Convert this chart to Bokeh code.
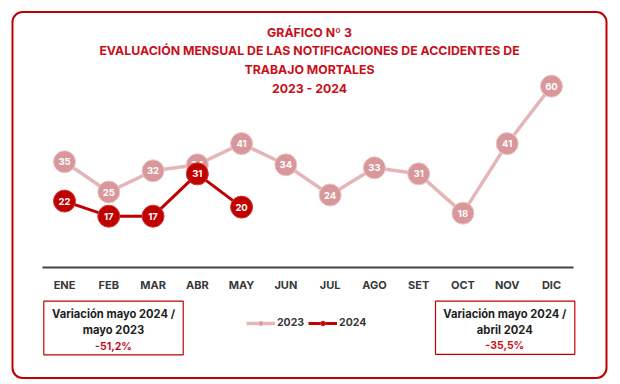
from bokeh.plotting import figure
from bokeh.models import Range1d, BoxAnnotation, Legend, LegendItem
from bokeh.core.properties import value
from bokeh.embed import file_html
from bokeh.resources import INLINE

# ---- data ----
months = ["ENE", "FEB", "MAR", "ABR", "MAY", "JUN", "JUL", "AGO", "SET", "OCT", "NOV", "DIC"]
v2023 = [35, 25, 32, 34, 41, 34, 24, 33, 31, 18, 41, 60]
v2024 = [22, 17, 17, 31, 20]
series_names = ["2023", "2024"]
title_lines = ["GRÁFICO Nº 3",
               "EVALUACIÓN MENSUAL DE LAS NOTIFICACIONES DE ACCIDENTES DE",
               "TRABAJO MORTALES",
               "2023 - 2024"]
box_left_lines = ["Variación mayo 2024 /", "mayo 2023"]
box_left_pct = "-51,2%"
box_right_lines = ["Variación mayo 2024 /", "abril 2024"]
box_right_pct = "-35,5%"

# ---- layout helpers (page pixel -> data units) ----
W, H = 620, 384
ORIGIN = 0            # page offset of the canvas
PX_X = 44.27          # pixels per month
X0_PAGE = 64.0        # page x of first month
PX_Y = 3.024          # pixels per unit
Y0_PAGE = 267.1       # page y of value 0


def xd(px):
    return (px - X0_PAGE) / PX_X


def yd(py):
    return (Y0_PAGE - py) / PX_Y


RED = "#C00000"
TITLE_RED = "#C8101A"
C23_FILL = "#D8979A"
C23_LINE = "#E5B6B8"
C24 = "#C00000"
DARK = "#383838"
FONT_NAME = "Inter"
FONT = value(FONT_NAME)

p = figure(width=W, height=H, x_range=Range1d(xd(ORIGIN), xd(ORIGIN + W)),
           y_range=Range1d(yd(ORIGIN + H), yd(ORIGIN)), output_backend="svg",
           toolbar_location=None, x_axis_location=None, y_axis_location=None,
           min_border=0)
p.grid.visible = False
p.outline_line_color = None
p.background_fill_color = "white"
p.border_fill_color = "white"

# outer rounded frame
p.add_layout(BoxAnnotation(left=xd(12), right=xd(606), top=yd(11.5), bottom=yd(377.5),
                           fill_alpha=0, line_color=RED, line_alpha=1, line_width=2,
                           border_radius=10))

# titles
p.text(x=[xd(309)] * len(title_lines), y=[yd(31.5), yd(49.5), yd(68.5), yd(87.5)],
       text=title_lines, text_align="center", text_baseline="middle",
       text_color=TITLE_RED, text_font=FONT, text_font_style="bold", text_font_size="12.3px")

idx = list(range(len(months)))

# baseline (axis line)
p.segment(x0=[idx[0] - 0.5], x1=[idx[-1] + 0.5], y0=[0], y1=[0], line_color="#444444", line_width=2)

# month labels
p.text(x=idx, y=[yd(284)] * len(months), text=months, text_align="center", text_baseline="middle",
       text_color=DARK, text_font=FONT, text_font_style="bold", text_font_size="11px")

# 2023 series
x23 = idx[:len(v2023)]
l23 = p.line(x23, v2023, line_color=C23_LINE, line_width=3.5)
s23 = p.scatter(x23, v2023, size=22, fill_color=C23_FILL, line_color="#EBC7C9", line_width=1)
p.text(x=x23, y=v2023, text=[str(v) for v in v2023], text_align="center", text_baseline="middle",
       text_color="white", text_font=FONT, text_font_style="bold", text_font_size="9.5px")

# 2024 series
x24 = idx[:len(v2024)]
l24 = p.line(x24, v2024, line_color=C24, line_width=3)
s24 = p.scatter(x24, v2024, size=22, fill_color=C24, line_color="#D23A3A", line_width=1)
p.text(x=x24, y=v2024, text=[str(v) for v in v2024], text_align="center", text_baseline="middle",
       text_color="white", text_font=FONT, text_font_style="bold", text_font_size="9.5px")

# legend
legend = Legend(items=[LegendItem(label=series_names[0], renderers=[l23, s23]),
                       LegendItem(label=series_names[1], renderers=[l24, s24])],
                orientation="horizontal", location=(246 - ORIGIN, (ORIGIN + H) - 323 - 6),
                glyph_width=29, glyph_height=12,
                label_standoff=2, spacing=4, padding=0, margin=0,
                background_fill_alpha=0, border_line_color=None,
                label_text_font=FONT_NAME, label_text_font_style="bold", label_text_font_size="10.5px",
                label_text_color=DARK, label_height=12)
p.add_layout(legend)

# variation boxes
p.add_layout(BoxAnnotation(left=xd(43.3), right=xd(182.7), top=yd(300.7), bottom=yd(354.3),
                           fill_alpha=0, line_color=RED, line_alpha=1, line_width=1.2))
p.add_layout(BoxAnnotation(left=xd(435), right=xd(574.3), top=yd(300.7), bottom=yd(353.8),
                           fill_alpha=0, line_color=RED, line_alpha=1, line_width=1.2))

p.text(x=[xd(113)] * 2 + [xd(504.3)] * 2, y=[yd(313.3), yd(329.3), yd(313.3), yd(329.3)],
       text=box_left_lines + box_right_lines, text_align="center", text_baseline="middle",
       text_color="#1E1E1E", text_font=FONT, text_font_style="bold", text_font_size="11.2px")
p.text(x=[xd(113), xd(504.3)], y=[yd(345.7), yd(345.3)], text=[box_left_pct, box_right_pct],
       text_align="center", text_baseline="middle",
       text_color=TITLE_RED, text_font=FONT, text_font_style="bold", text_font_size="10.5px")

open("out.html", "w").write(file_html(p, INLINE))
